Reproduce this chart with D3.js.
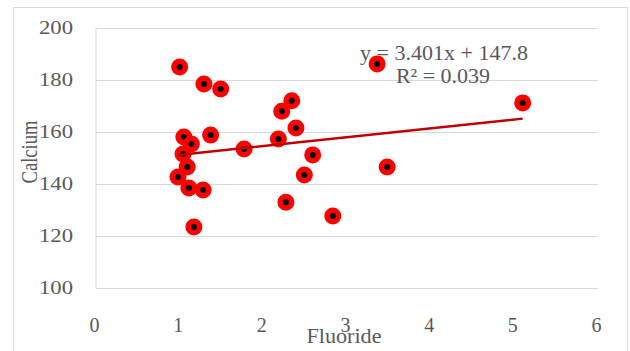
<!DOCTYPE html>
<html>

<head>
    <meta charset="UTF-8" />
    <title>calcium vs fluoride</title>
    <style>
        body {
            margin: 0;
            padding: 0;
            background-color: white;
        }

        svg text {
            font-family: 'Liberation Serif', 'Times New Roman', serif;
            fill: #595959;
        }
    </style>
</head>

<body>

    <div class="chart"></div>

    <script src="https://cdnjs.cloudflare.com/ajax/libs/d3/7.8.5/d3.min.js"></script>

    <script>
        // values
        const fluoride = [1.04, 1.00, 1.29, 1.49, 1.05, 1.37, 1.14, 1.77, 1.09, 0.98, 1.11, 1.28, 1.17,
            2.18, 2.22, 2.34, 2.39, 2.59, 2.49, 2.27, 2.83, 3.36, 5.10, 3.48]
        const calcium = [151.5, 185.0, 178.5, 176.5, 158.1, 158.8, 155.4, 153.5, 146.5, 142.7, 138.5, 137.7, 123.5,
            157.3, 168.0, 172.0, 161.5, 151.2, 143.5, 133.0, 127.7, 186.2, 171.2, 146.5]
        const xTicks = [0, 1, 2, 3, 4, 5, 6]
        const yTicks = [100, 120, 140, 160, 180, 200]
        const slope = 3.401
        const intercept = 147.8
        const rSquared = 0.039

        const W = 630, H = 351
        const plotLeft = 96, plotRight = 598, plotTop = 28, plotBottom = 288

        const x = d3.scaleLinear().domain([0, 6]).range([plotLeft, plotRight])
        const y = d3.scaleLinear().domain([100, 200]).range([plotBottom, plotTop])

        const svg = d3.select('.chart').append('svg')
            .attr('width', W)
            .attr('height', H)

        // chart area border
        svg.append('rect')
            .attr('x', 13.5).attr('y', 7.5)
            .attr('width', 614).attr('height', 370)
            .attr('fill', 'white')
            .attr('stroke', '#d9d9d9')

        // y axis with gridlines
        const yAxis = svg.append('g')
            .attr('transform', `translate(${plotLeft},0)`)
            .call(d3.axisLeft(y).tickValues(yTicks).tickSize(-(plotRight - plotLeft)).tickPadding(23))
        yAxis.select('.domain').remove()
        yAxis.selectAll('line').attr('stroke', '#d9d9d9')
        yAxis.selectAll('text')
            .attr('font-size', 18)
            .attr('dy', '0.33em')
            .attr('textLength', 34)
            .attr('lengthAdjust', 'spacingAndGlyphs')
            .style('fill', '#595959')

        // vertical axis line
        svg.append('line')
            .attr('x1', x(0)).attr('x2', x(0))
            .attr('y1', y(100)).attr('y2', y(200))
            .attr('stroke', '#d9d9d9')

        const xAxis = svg.append('g')
            .attr('transform', `translate(0,${plotBottom})`)
            .call(d3.axisBottom(x).tickValues(xTicks).tickFormat(d3.format('d')).tickSize(0))
        xAxis.select('.domain').remove()
        xAxis.selectAll('text')
            .attr('font-size', 20)
            .attr('y', 44)
            .attr('dy', null)
            .attr('x', -2)
            .style('fill', '#595959')

        // points
        const pts = fluoride.map((f, i) => ({ f: f, c: calcium[i] }))
        svg.append('g').selectAll('circle')
            .data(pts)
            .join('circle')
            .attr('cx', d => x(d.f))
            .attr('cy', d => y(d.c))
            .attr('r', 5.75)
            .attr('fill', 'black')
            .attr('stroke', '#ff0000')
            .attr('stroke-width', 5.5)

        // linear trendline over the data range
        const xExt = d3.extent(fluoride)
        svg.append('line')
            .attr('x1', x(xExt[0])).attr('y1', y(slope * xExt[0] + intercept))
            .attr('x2', x(xExt[1])).attr('y2', y(slope * xExt[1] + intercept))
            .attr('stroke', '#c00000')
            .attr('stroke-width', 2.5)

        // equation
        svg.append('text')
            .attr('x', 444).attr('y', 60)
            .attr('text-anchor', 'middle')
            .attr('font-size', 22)
            .text(`y = ${slope}x + ${intercept}`)
        svg.append('text')
            .attr('x', 443).attr('y', 83)
            .attr('text-anchor', 'middle')
            .attr('font-size', 22)
            .text(`R² = ${rSquared}`)

        // axis titles
        svg.append('text')
            .attr('x', 344).attr('y', 343)
            .attr('text-anchor', 'middle')
            .attr('font-size', 21)
            .attr('textLength', 75)
            .attr('lengthAdjust', 'spacingAndGlyphs')
            .text('Fluoride')

        svg.append('text')
            .attr('transform', 'translate(37,152) rotate(-90)')
            .attr('text-anchor', 'middle')
            .attr('font-size', 24)
            .attr('textLength', 63)
            .attr('lengthAdjust', 'spacingAndGlyphs')
            .text('Calcium')
    </script>
</body>

</html>
